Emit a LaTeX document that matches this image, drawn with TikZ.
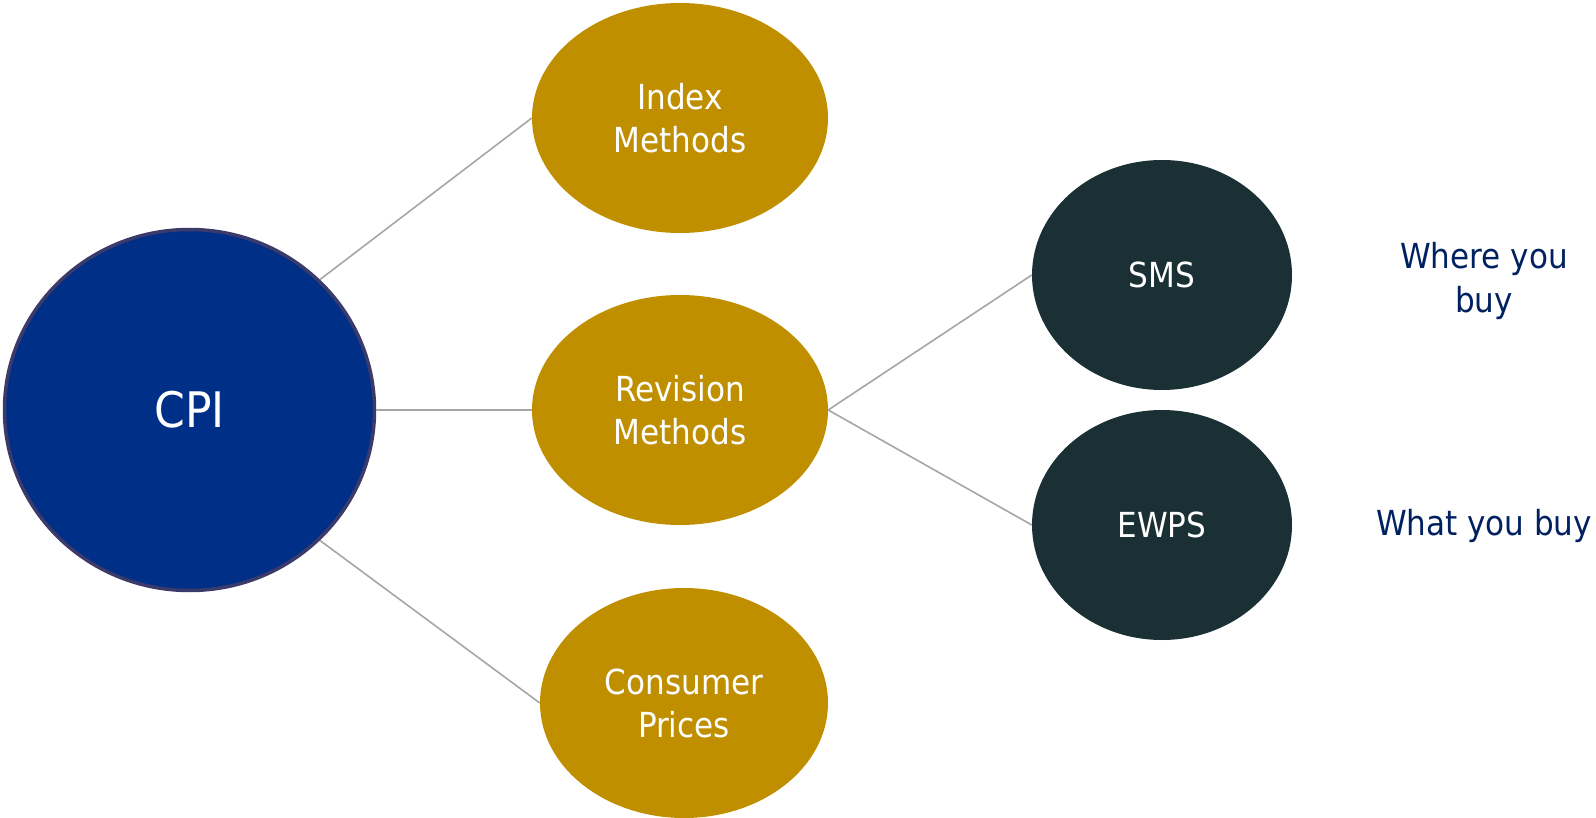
\documentclass[tikz,border=0pt]{standalone}
\usepackage{fontspec}
\setmainfont{DejaVu Sans Condensed}
\usetikzlibrary{shapes.geometric}
\definecolor{cpiblue}{HTML}{002F87}
\definecolor{cpiedge}{HTML}{3B3B6B}
\definecolor{gold}{HTML}{BF8F00}
\definecolor{slate}{HTML}{1B3034}
\definecolor{navy}{HTML}{002060}
\definecolor{link}{HTML}{A6A6A6}
\tikzset{
	blob/.style={shape=ellipse,inner sep=0pt,text=white,align=center,font=\fontsize{34.5}{43}\selectfont},
	goldblob/.style={blob,fill=gold,minimum width=296pt,minimum height=230pt},
	darkblob/.style={blob,fill=slate,minimum width=260pt,minimum height=230pt},
	note/.style={text=navy,align=center,font=\fontsize{34.5}{44}\selectfont},
	link/.style={draw=link,line width=1.6pt}
}
\begin{document}
\begin{tikzpicture}[x=1pt,y=1pt]
		\useasboundingbox (0,0) rectangle (1596,-818);
			\node[shape=ellipse,draw=cpiedge,line width=3.5pt,fill=cpiblue,inner sep=0pt,minimum width=370pt,minimum height=361pt,text=white,font=\fontsize{49}{58}\selectfont] (CPI) at (189.5,-410) {CPI};
			\node[goldblob] (IM) at (680,-118) {Index\\Methods};
			\node[goldblob] (RM) at (680,-410) {Revision\\Methods};
			\node[goldblob,minimum width=288pt] (CP) at (684,-703) {Consumer\\Prices};
			\node[darkblob] (SMS) at (1162,-275) {SMS};
			\node[darkblob] (EWPS) at (1162,-525) {EWPS};
			\node[note] (where) at (1484,-281) {Where you\\buy};
			\node[note] (what) at (1484,-526) {What you buy};
			
			\path [link] (CPI.45) edge node[] {} (IM.west);
			\path [link] (CPI.east) edge node[] {} (RM.west);
			\path [link] (CPI.-45) edge node[] {} (CP.west);
			\path [link] (RM.east) edge node[] {} (SMS.west);
			\path [link] (RM.east) edge node[] {} (EWPS.west);

		\end{tikzpicture}
\end{document}
